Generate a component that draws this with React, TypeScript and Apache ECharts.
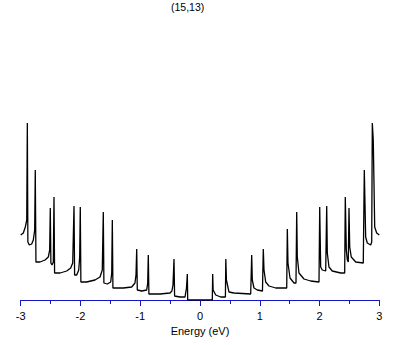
import React, { useEffect, useRef } from "react";
import * as echarts from "echarts";

const titleText = "(15,13)";
const axisName = "Energy (eV)";
const xTickValues = [-3, -2, -1, 0, 1, 2, 3];

const energy = [
  -3.0, -2.956, -2.923, -2.899, -2.889, -2.88, -2.856, -2.816, -2.789, -2.766,
  -2.756, -2.745, -2.677, -2.593, -2.538, -2.515, -2.505, -2.495, -2.476, -2.454,
  -2.443, -2.433, -2.342, -2.23, -2.163, -2.13, -2.108, -2.098, -2.063, -2.029,
  -2.013, -2.003, -1.993, -1.896, -1.757, -1.673, -1.635, -1.618, -1.608, -1.551,
  -1.494, -1.477, -1.467, -1.457, -1.283, -1.143, -1.088, -1.071, -1.059, -1.049,
  -0.975, -0.892, -0.875, -0.865, -0.855, -0.669, -0.502, -0.47, -0.452, -0.435,
  -0.425, -0.335, -0.251, -0.226, -0.212, -0.206,
  0.206, 0.212, 0.22, 0.263, 0.346, 0.413, 0.425, 0.432, 0.442, 0.485,
  0.569, 0.848, 0.855, 0.865, 0.875, 0.903, 0.959, 1.045, 1.059, 1.071,
  1.099, 1.154, 1.267, 1.451, 1.461, 1.472, 1.506, 1.573, 1.606, 1.618,
  1.628, 1.656, 1.74, 1.852, 1.991, 2.003, 2.019, 2.046, 2.103, 2.11,
  2.12, 2.13, 2.158, 2.213, 2.354, 2.421, 2.431, 2.448, 2.465, 2.481,
  2.493, 2.505, 2.531, 2.605, 2.732, 2.749, 2.772, 2.799, 2.856, 2.873,
  2.883, 2.899, 2.911, 2.923, 2.956, 3.0,
];

const dos = [
  0.65, 0.67, 0.73, 0.8, 1.77, 0.58, 0.55, 0.56, 0.6, 0.7,
  1.3, 0.38, 0.38, 0.4, 0.43, 0.5, 0.92, 0.37, 0.35, 0.38,
  1.03, 0.27, 0.27, 0.29, 0.32, 0.37, 0.94, 0.25, 0.25, 0.3,
  0.43, 0.93, 0.18, 0.18, 0.2, 0.23, 0.3, 0.88, 0.17, 0.16,
  0.18, 0.27, 0.8, 0.12, 0.12, 0.13, 0.17, 0.25, 0.51, 0.1,
  0.09, 0.1, 0.17, 0.45, 0.06, 0.06, 0.07, 0.09, 0.15, 0.41,
  0.04, 0.03, 0.03, 0.12, 0.26, 0.0,
  0.0, 0.26, 0.1, 0.05, 0.03, 0.03, 0.03, 0.41, 0.2, 0.08,
  0.07, 0.06, 0.06, 0.45, 0.2, 0.12, 0.1, 0.09, 0.51, 0.3,
  0.18, 0.14, 0.12, 0.12, 0.71, 0.37, 0.22, 0.17, 0.17, 0.88,
  0.43, 0.27, 0.21, 0.19, 0.18, 0.93, 0.33, 0.3, 0.29, 0.29,
  0.94, 0.47, 0.33, 0.29, 0.27, 0.27, 1.03, 0.5, 0.4, 0.38,
  0.92, 0.53, 0.43, 0.38, 0.37, 1.3, 0.63, 0.57, 0.55, 0.58,
  1.77, 1.6, 1.17, 0.73, 0.67, 0.65,
];

export default function App() {
  const ref = useRef<HTMLDivElement>(null);
  useEffect(() => {
    if (!ref.current) return;
    const chart = echarts.init(ref.current, undefined, { renderer: "svg" });
    const blue = "#1414c8";
    const font = "'Liberation Sans', Arial, sans-serif";
    chart.setOption({
      animation: false,
      backgroundColor: "#ffffff",
      title: {
        text: titleText,
        left: 171,
        top: 1,
        padding: 0,
        textStyle: { fontSize: 10.5, fontWeight: "normal", color: "#000", fontFamily: font },
      },
      grid: { left: 20.7, right: 29.7, top: 20, bottom: 45 },
      xAxis: {
        type: "value",
        min: xTickValues[0],
        max: xTickValues[xTickValues.length - 1],
        interval: 1,
        name: axisName,
        nameLocation: "middle",
        nameGap: 25,
        nameTextStyle: { fontSize: 11, color: "#000", fontFamily: font },
        axisLine: { show: true, lineStyle: { color: blue, width: 1 } },
        axisTick: { show: true, length: 6, lineStyle: { color: blue, width: 1 } },
        minorTick: { show: true, splitNumber: 2, length: 4, lineStyle: { color: blue, width: 1 } },
        axisLabel: { fontSize: 11, color: "#000", margin: 10, fontFamily: font },
        splitLine: { show: false },
      },
      yAxis: {
        type: "value",
        min: 0,
        max: 2.8,
        show: false,
        splitLine: { show: false },
      },
      series: [
        {
          type: "line",
          data: energy.map((e, i) => [e, dos[i]]),
          showSymbol: false,
          symbol: "none",
          lineStyle: { color: "#000", width: 1.3 },
          z: 3,
        },
      ],
    });
    return () => chart.dispose();
  }, []);
  return (
    <div
      ref={ref}
      style={{ position: "absolute", left: 0, top: 0, width: 409, height: 345 }}
    />
  );
}
